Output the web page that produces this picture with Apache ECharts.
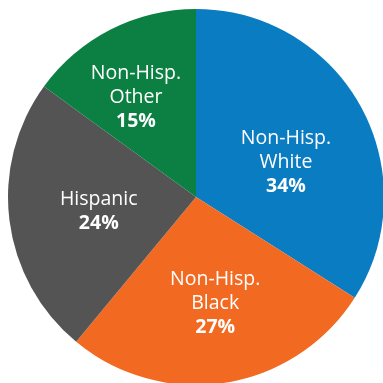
<!DOCTYPE html>
<html>
<head>
<meta charset="utf-8">
<script src="https://cdn.jsdelivr.net/npm/echarts@6/dist/echarts.min.js"></script>
<style>
html,body{margin:0;padding:0;background:#fff;}
#main{width:383px;height:383px;}
</style>
</head>
<body>
<div id="main"></div>
<script>
// groups, shares (%) and slice colours
var groupNames = ['Non-Hisp.\nWhite', 'Non-Hisp.\nBlack', 'Hispanic', 'Non-Hisp.\nOther'];
var groupShares = [34, 27, 24, 15];
var groupColors = ['#0a7cc1', '#f26a22', '#545454', '#0b8042'];
// small nudges so the labels sit where the original has them
var labelShift = [[5, 12], [4, 11], [-1, 2], [-16, -13]];

var chart = echarts.init(document.getElementById('main'));

var pieData = [];
for (var i = 0; i < groupNames.length; i++) {
    pieData.push({
        name: groupNames[i],
        value: groupShares[i],
        itemStyle: {color: groupColors[i]},
        label: {offset: labelShift[i]}
    });
}

var option = {
    animation: false,
    series: [{
        type: 'pie',
        center: [196, 197],
        radius: [0, 188],
        startAngle: 90,
        clockwise: true,
        data: pieData,
        itemStyle: {borderWidth: 0},
        label: {
            show: true,
            position: 'inside',
            color: '#fff',
            fontFamily: 'Open Sans',
            fontSize: 19.5,
            fontWeight: 500,
            lineHeight: 24,
            align: 'center',
            formatter: function (p) {
                return p.name + '\n{pct|' + p.value + '%}';
            },
            rich: {
                pct: {
                    color: '#fff',
                    fontFamily: 'Open Sans',
                    fontSize: 19.5,
                    fontWeight: 'bold',
                    lineHeight: 24
                }
            }
        },
        labelLine: {show: false}
    }]
};

chart.setOption(option);
</script>
</body>
</html>
